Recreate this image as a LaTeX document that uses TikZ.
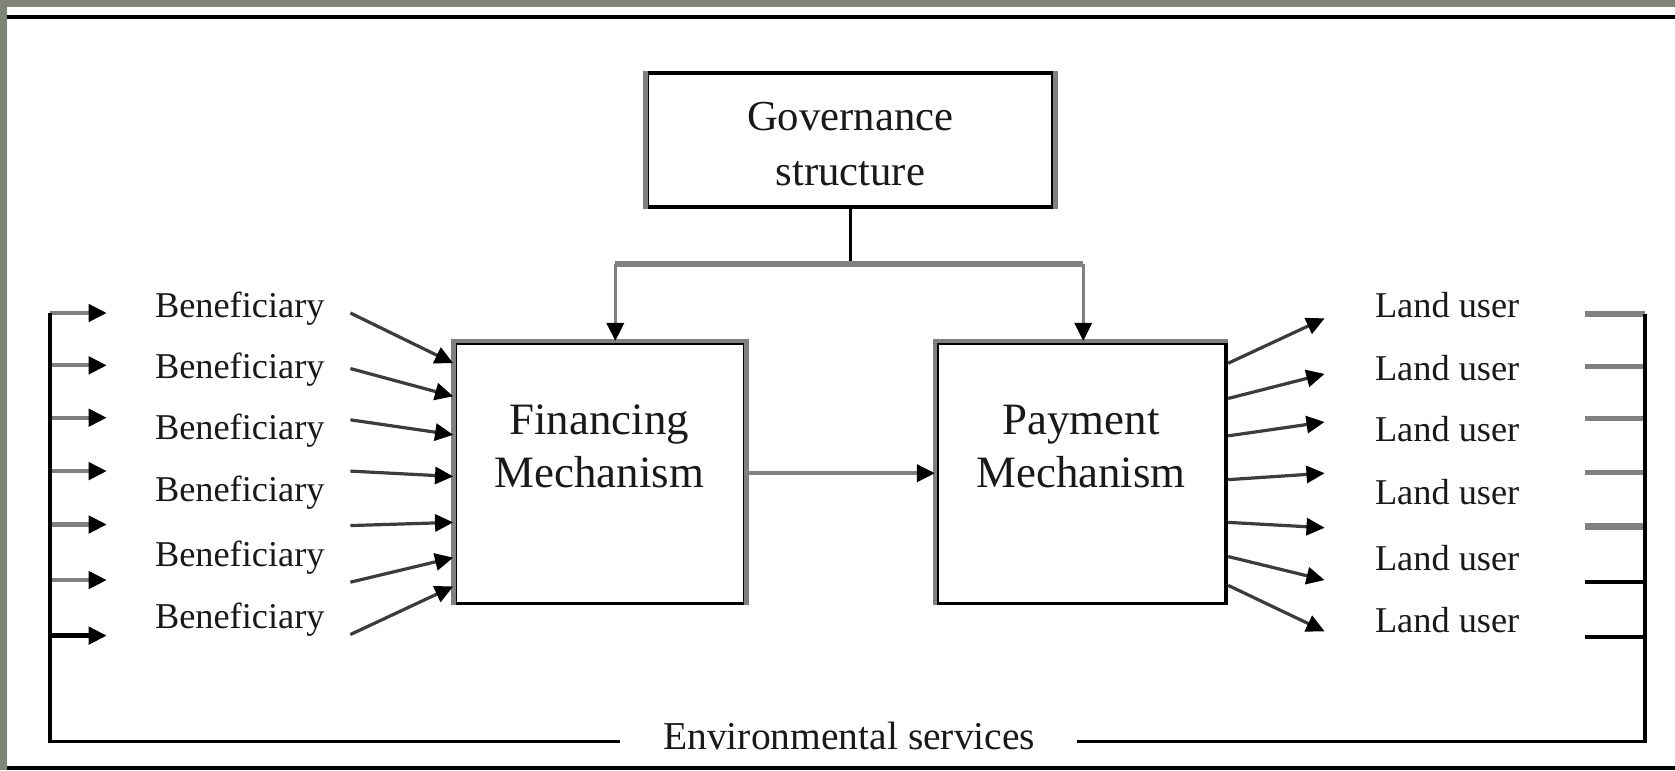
\documentclass[tikz,border=0pt]{standalone}
\usepackage{fontspec}
\setmainfont{Liberation Serif}
\usetikzlibrary{arrows.meta}
\definecolor{frame}{RGB}{128,132,118}
\definecolor{lgray}{RGB}{128,128,128}
\definecolor{dgray}{RGB}{60,60,60}
\definecolor{ink}{RGB}{25,25,25}
\begin{document}
\begin{tikzpicture}[x=1pt,y=-1pt,
  every node/.style={inner sep=0pt, text=ink},
  box/.style={draw=black, line width=3.5pt, inner sep=0pt},
  tip/.style={-{Triangle[length=17pt,width=16pt,color=black]}},
  slant/.style={tip, draw=dgray, line width=3pt},
  grayedge/.style={draw=lgray, line width=4.5pt},
  blackline/.style={draw=black, line width=3.5pt},
  lbl/.style={anchor=west, font=\fontsize{34}{40}\selectfont},
  boxtext/.style={align=center, font=\fontsize{42}{50}\selectfont},
  govtext/.style={align=center, font=\fontsize{40}{52}\selectfont},
]
\useasboundingbox (0,0) rectangle (1568,721);
\fill[frame] (0,0) rectangle (1568,721);
\fill[white] (7,7) rectangle (1568,721);
\draw[black, line width=4pt] (7,16) -- (1568,16);
\draw[black, line width=3.5pt] (7,719) -- (1568,719);

% boxes
\node[box, minimum width=380pt, minimum height=126pt] (gov) at (796,131) {};
\draw[grayedge] (gov.north west) -- (gov.south west);
\draw[grayedge] (gov.north east) -- (gov.south east);
\node[govtext] (govt) at (796,135) {Governance\\structure};

\node[box, minimum width=271pt, minimum height=244pt] (fin) at (561.5,443) {};
\draw[grayedge] (fin.south west) -- (fin.north west) -- (fin.north east) -- (fin.south east);
\node[boxtext] (fint) at (561,418) {Financing\\Mechanism};

\node[box, minimum width=271pt, minimum height=244pt] (pay) at (1012.5,443) {};
\draw[grayedge] (pay.south west) -- (pay.north west) -- (pay.north east);
\node[boxtext] (payt) at (1012,418) {Payment\\Mechanism};

% governance connectors
\coordinate (split) at (796,247);
\coordinate (splitL) at (576,247);
\coordinate (splitR) at (1014,247);
\draw[black, line width=3pt] (gov.south) -- (split);
\draw[draw=lgray, line width=6pt] (splitL) -- (splitR);
\draw[tip, draw=lgray, line width=3pt] (splitL) -- (splitL |- fin.north);
\draw[tip, draw=lgray, line width=3pt] (splitR) -- (splitR |- pay.north);
\draw[tip, draw=lgray, line width=3.5pt] (fin.east) -- (pay.west);

% environmental services loop
\node[font=\fontsize{37}{40}\selectfont] (env) at (795,689) {Environmental services};
\coordinate (envL) at (580,694);
\coordinate (envR) at (1008,694);

% left side
\foreach \i/\y/\c in {1/293/lgray,2/342/lgray,3/391/lgray,4/441/lgray,5/491/lgray,6/543/lgray,7/595/black}{
  \coordinate (la\i) at (47,\y);
  \coordinate (lt\i) at (100,\y);
  \draw[tip, draw=\c, line width=4pt] (la\i) -- (lt\i);
}
\draw[blackline] (la1) -- (47,694) -- (envL);

\foreach \i/\y in {1/289,2/346,3/403,4/461,5/522,6/580}{
  \node[lbl] (ben\i) at (145,\y) {Beneficiary};
}
\foreach \i/\ys/\ye in {1/293/340,2/345/371,3/393/407,4/441/446,5/492/489,6/545/522,7/594/549}{
  \coordinate (bs\i) at (328,\ys);
  \draw[slant] (bs\i) -- (fin.west |- 0,\ye);
}

% right side
\foreach \i/\ys/\ye in {1/340/298,2/373/350,3/408/395,4/449/443,5/489/494,6/521/543,7/548/591}{
  \coordinate (re\i) at (1240,\ye);
  \draw[slant] (pay.east |- 0,\ys) -- (re\i);
}
\foreach \i/\y in {1/286,2/345,3/402,4/461,5/522,6/580}{
  \node[lbl] (land\i) at (1287,\y) {Land user};
}
\foreach \i/\y/\c/\w in {1/294/lgray/5,2/343/lgray/5,3/392/lgray/5,4/442/lgray/5,5/493/lgray/6,6/545/black/3.5,7/596/black/3.5}{
  \coordinate (ra\i) at (1540,\y);
  \coordinate (rs\i) at (1484,\y);
  \draw[draw=\c, line width=\w pt] (rs\i) -- (ra\i);
}
\draw[blackline] (envR) -- (1540,694) -- (ra1);
\end{tikzpicture}
\end{document}
